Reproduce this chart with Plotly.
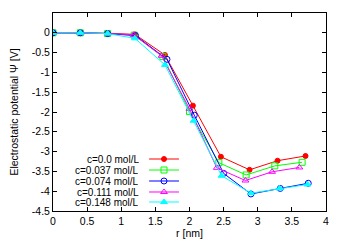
import plotly.graph_objects as go

labels = ["c=0.0 mol/L", "c=0.037 mol/L", "c=0.074 mol/L", "c=0.111 mol/L", "c=0.148 mol/L"]
colors = ["#ff0000", "#00ff00", "#0000ff", "#ff00ff", "#00ffff"]
symbols = ["circle", "square-open", "circle-open", "triangle-up-open", "triangle-up"]

r_c000 = [0, 0.4, 0.8, 1.2, 1.64, 2.05, 2.46, 2.88, 3.29, 3.70]
psi_c000 = [0, 0, -0.01, -0.04, -0.56, -1.84, -3.13, -3.46, -3.23, -3.11]
r_c037 = [0, 0.4, 0.8, 1.19, 1.61, 2.0, 2.43, 2.83, 3.25, 3.65]
psi_c037 = [0, 0, -0.02, -0.06, -0.6, -1.99, -3.28, -3.59, -3.36, -3.27]
r_c074 = [0, 0.4, 0.8, 1.21, 1.67, 2.07, 2.50, 2.90, 3.33, 3.74]
psi_c074 = [0, 0, -0.02, -0.07, -0.67, -2.08, -3.55, -4.07, -3.93, -3.80]
r_c111 = [0, 0.4, 0.8, 1.18, 1.59, 2.0, 2.40, 2.82, 3.21, 3.61]
psi_c111 = [0, 0, -0.02, -0.05, -0.58, -1.92, -3.41, -3.73, -3.51, -3.40]
r_c148 = [0, 0.4, 0.8, 1.2, 1.64, 2.06, 2.47, 2.90, 3.32, 3.73]
psi_c148 = [0, 0, -0.02, -0.14, -0.81, -2.22, -3.61, -4.05, -3.93, -3.83]

xs = [r_c000, r_c037, r_c074, r_c111, r_c148]
ys = [psi_c000, psi_c037, psi_c074, psi_c111, psi_c148]

x_ticks = [0, 0.5, 1, 1.5, 2, 2.5, 3, 3.5, 4]
x_ticktext = ["0", "0.5", "1", "1.5", "2", "2.5", "3", "3.5", "4"]
y_ticks = [0.5, 0, -0.5, -1, -1.5, -2, -2.5, -3, -3.5, -4, -4.5]
y_ticktext = ["0.5", "0", "-0.5", "-1", "-1.5", "-2", "-2.5", "-3", "-3.5", "-4", "-4.5"]

FONT = "Liberation Sans, Arial, sans-serif"
FS = 10.5
LFS = 10

fig = go.Figure()
for x, y, c, s, lab in zip(xs, ys, colors, symbols, labels):
    fig.add_trace(go.Scatter(
        x=x, y=y, mode="lines+markers", name=lab,
        line=dict(color=c, width=1),
        marker=dict(symbol=s, size=6 if s != "circle" else 5, color=c,
                    line=dict(color=c, width=1)),
        showlegend=False,
    ))

# custom gnuplot-style key (text right-aligned, sample to the right)
leg_x0, leg_x1, leg_xm, txt_x = 0.352, 0.4615, 0.4066, 0.3187
leg_y = [0.2626, 0.207, 0.1515, 0.096, 0.0455]
shapes = []
annotations = []
for yy, c, s, lab in zip(leg_y, colors, symbols, labels):
    shapes.append(dict(type="line", xref="paper", yref="paper",
                       x0=leg_x0, x1=leg_x1, y0=yy, y1=yy,
                       line=dict(color=c, width=1)))
    annotations.append(dict(text=lab, xref="paper", yref="paper", x=txt_x, y=yy,
                            xanchor="right", yanchor="middle", showarrow=False,
                            height=10, borderpad=0,
                            font=dict(family=FONT, size=LFS, color="black")))
    fig.add_trace(go.Scatter(
        x=[leg_xm], y=[yy], xaxis="x2", yaxis="y2", mode="markers",
        marker=dict(symbol=s, size=6 if s != "circle" else 5, color=c,
                    line=dict(color=c, width=1)),
        showlegend=False, hoverinfo="skip",
    ))

axis_common = dict(showline=True, linecolor="black", linewidth=1, mirror="ticks",
                   ticks="inside", ticklen=4, tickcolor="black", showgrid=False,
                   zeroline=False, automargin=False,
                   tickfont=dict(family=FONT, size=FS, color="black"))

# page body has an 8px default margin, so the figure is shrunk/offset to compensate
fig.update_layout(
    width=342, height=237,
    margin=dict(l=45, r=24, t=5, b=34),
    plot_bgcolor="white", paper_bgcolor="white",
    font=dict(family=FONT, size=FS, color="black"),
    xaxis=dict(range=[0, 4], tickvals=x_ticks, ticktext=x_ticktext,
               title=dict(text="r [nm]", standoff=4, font=dict(family=FONT, size=FS)),
               **axis_common),
    yaxis=dict(range=[-4.5, 0.5], tickvals=y_ticks, ticktext=y_ticktext,
               title=dict(text="Electrostatic potential Ψ [V]", standoff=11,
                          font=dict(family=FONT, size=FS)),
               **axis_common),
    xaxis2=dict(overlaying="x", range=[0, 1], visible=False),
    yaxis2=dict(overlaying="y", range=[0, 1], visible=False),
    shapes=shapes,
    annotations=annotations,
)

fig.write_html("out.html")
